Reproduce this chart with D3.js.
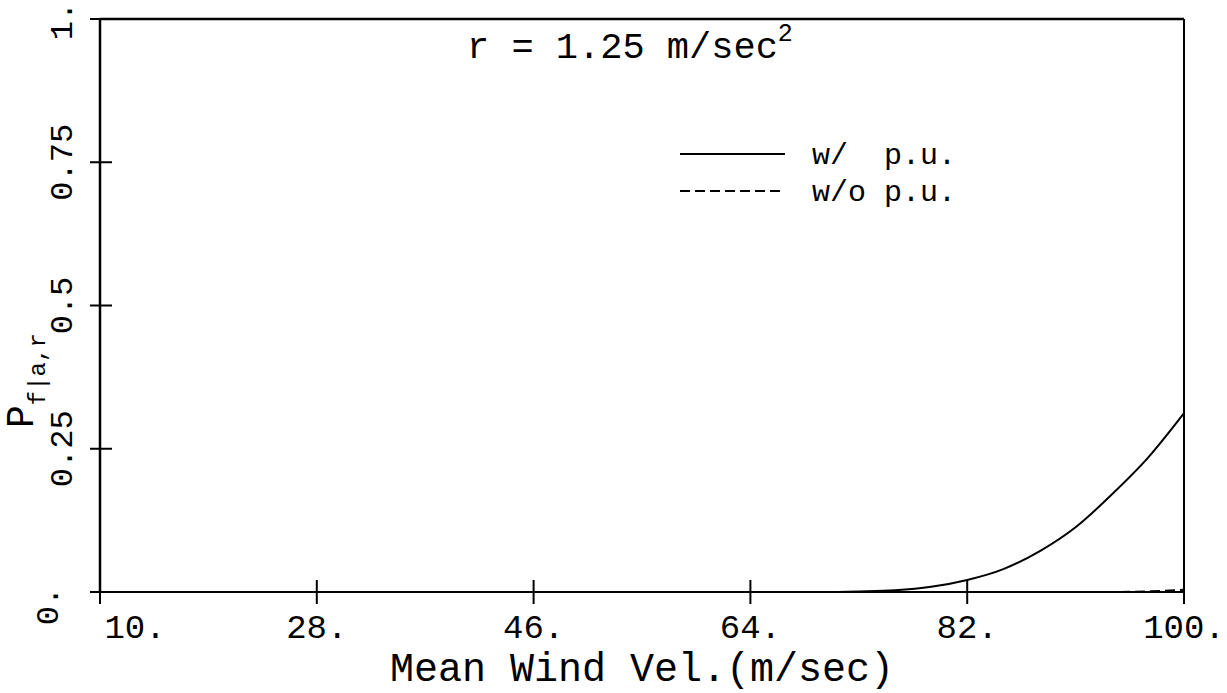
<!DOCTYPE html>
<html>
<head>
<meta charset="UTF-8">
<title>Pf|a,r vs mean wind velocity</title>
<script src="https://cdn.jsdelivr.net/npm/d3@7"></script>
<style>
  body { margin: 0; background: #fff; }
  text { font-family: "Liberation Mono", "Courier New", monospace; fill: #000; }
</style>
</head>
<body>
<svg id="svg" width="1227" height="693"></svg>
<script>
// data
var vel     = [10, 28, 46, 64, 70, 73, 76, 79, 82, 85, 88, 91, 94, 97, 100];
var withPU  = [0, 0, 0, 0, 0, 0.001, 0.003, 0.009, 0.021, 0.040, 0.071, 0.113, 0.170, 0.234, 0.312];
var withoutPU = [0, 0, 0, 0, 0, 0, 0, 0, 0, 0, 0, 0, 0, 0.001, 0.004];

var xTicks = [10, 28, 46, 64, 82, 100];
var xTickLabels = ["10.", "28.", "46.", "64.", "82.", "100."];
var yTicks = [0, 0.25, 0.5, 0.75, 1];
var yTickLabels = ["0.", "0.25", "0.5", "0.75", "1."];
var seriesNames = ["w/  p.u.", "w/o p.u."];

var svg = d3.select('#svg');

// plot box (don't call it "top", that's window.top)
var pLeft = 100, pRight = 1184, pTop = 19, pBottom = 592;

var x = d3.scaleLinear().domain([10, 100]).range([pLeft, pRight]);
var y = d3.scaleLinear().domain([0, 1]).range([pBottom, pTop]);

// frame
svg.append('line').attr('x1', pLeft).attr('x2', pLeft).attr('y1', pTop).attr('y2', pBottom)
  .attr('stroke', '#000').attr('stroke-width', 2.5);
svg.append('line').attr('x1', pLeft).attr('x2', pRight).attr('y1', pTop).attr('y2', pTop)
  .attr('stroke', '#000').attr('stroke-width', 2.5);
svg.append('line').attr('x1', pRight).attr('x2', pRight).attr('y1', pTop).attr('y2', pBottom)
  .attr('stroke', '#000').attr('stroke-width', 2);
svg.append('line').attr('x1', pLeft).attr('x2', pRight).attr('y1', pBottom).attr('y2', pBottom)
  .attr('stroke', '#000').attr('stroke-width', 2);

// ticks crossing the axes
svg.selectAll('.xt').data(xTicks).enter().append('line')
  .attr('x1', d => x(d)).attr('x2', d => x(d))
  .attr('y1', pBottom - 12).attr('y2', pBottom + 12)
  .attr('stroke', '#000').attr('stroke-width', 2);
svg.selectAll('.yt').data(yTicks).enter().append('line')
  .attr('x1', pLeft - 10).attr('x2', pLeft + 12)
  .attr('y1', d => y(d)).attr('y2', d => y(d))
  .attr('stroke', '#000').attr('stroke-width', 2);

// x tick labels
svg.selectAll('.xl').data(xTicks).enter().append('text')
  .attr('x', (d, i) => x(d) + (i == 0 ? 35 : 0))
  .attr('y', 638)
  .attr('text-anchor', 'middle')
  .style('font-size', '34px')
  .text((d, i) => xTickLabels[i]);

// y tick labels, rotated (first and last nudged like the original)
svg.selectAll('.yl').data(yTicks).enter().append('text')
  .attr('transform', function(d, i) {
    if (i == 0) return 'translate(58,' + (y(d) + 14) + ')rotate(-90)';
    if (i == yTicks.length - 1) return 'translate(72,' + (y(d) + 2) + ')rotate(-90)';
    return 'translate(72,' + y(d) + ')rotate(-90)';
  })
  .attr('text-anchor', 'middle')
  .style('font-size', '32px')
  .text((d, i) => yTickLabels[i]);

// axis titles
svg.append('text')
  .attr('x', 642).attr('y', 681)
  .attr('text-anchor', 'middle')
  .style('font-size', '40px')
  .text('Mean Wind Vel.(m/sec)');

var yl = svg.append('text')
  .attr('transform', 'translate(33,428)rotate(-90)');
yl.append('tspan').style('font-size', '38px').text('P');
yl.append('tspan').style('font-size', '24px').attr('dy', 12).text('f|a,r');

// title
var tt = svg.append('text').attr('x', 467).attr('y', 58).style('font-size', '37px');
tt.append('tspan').text('r = 1.25 m/sec');
tt.append('tspan').style('font-size', '25px').attr('dy', -17).text('2');

// curves
var line = d3.line().x(d => x(d[0])).y(d => y(d[1])).curve(d3.curveMonotoneX);

svg.append('path')
  .datum(vel.map((v, i) => [v, withoutPU[i]]))
  .attr('d', line).attr('fill', 'none')
  .attr('stroke', '#000').attr('stroke-width', 2)
  .attr('stroke-dasharray', '10,5');

svg.append('path')
  .datum(vel.map((v, i) => [v, withPU[i]]))
  .attr('d', line).attr('fill', 'none')
  .attr('stroke', '#000').attr('stroke-width', 2);

// legend
var legend = svg.append('g');
[0, 1].forEach(function(i) {
  var ly = 154 + i * 37;
  legend.append('line')
    .attr('x1', 680).attr('x2', 785).attr('y1', ly).attr('y2', ly)
    .attr('stroke', '#000').attr('stroke-width', 1.8)
    .attr('stroke-dasharray', i == 1 ? '10,5' : null);
  legend.append('text')
    .attr('x', 812).attr('y', ly + 10)
    .style('font-size', '30px')
    .style('white-space', 'pre')
    .attr('xml:space', 'preserve')
    .text(seriesNames[i]);
});
</script>
</body>
</html>
